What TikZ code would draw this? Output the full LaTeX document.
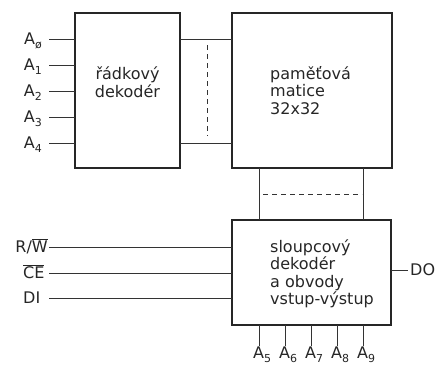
\documentclass[tikz,border=0pt]{standalone}
\usepackage{fontspec}
\setmainfont{DejaVu Sans}
\newcommand\subsc[1]{\raisebox{-3.5pt}{\fontsize{11}{11}\selectfont #1}}
\newcommand\ovl[1]{$\overline{\mbox{#1}}$}
\begin{document}
\begin{tikzpicture}[x=1pt,y=-1pt,
  font=\fontsize{16}{17.5}\selectfont,
  box/.style={draw=black!85, line width=1.3pt, inner sep=0pt, outer sep=0pt},
  wire/.style={draw=black!80, line width=0.8pt},
  dwire/.style={wire, dash pattern=on 5pt off 4pt},
  lab/.style={inner sep=0pt, text=black!85},
  txt/.style={inner sep=0pt, align=left, text=black!85}]
\useasboundingbox (0,0) rectangle (441,365);

% blocks
\node[box, minimum width=105pt, minimum height=155pt] (row) at (127.5,90.5) {};
\node[box, minimum width=160pt, minimum height=155pt] (mat) at (312,90.5) {};
\node[box, minimum width=159pt, minimum height=105pt] (col) at (311.5,272.5) {};

% texts
\node[txt, align=center] (rowtxt) at (127.5,82) {řádkový\\dekodér};
\node[txt, anchor=north west] (mattxt) at (270,66) {paměťová\\matice\\32x32};
\node[txt, anchor=north west] (coltxt) at (270,239) {sloupcový\\dekodér\\a obvody\\vstup-výstup};

% row address inputs
\foreach \n/\y/\s in {0/39/ø,1/65/1,2/91/2,3/117/3,4/143/4}{
  \coordinate (in\n) at (49,\y);
  \node[lab, anchor=base east] (lin\n) at (42,\y+5.5) {A\subsc{\s}};
  \draw[wire] (in\n) -- (row.west |- in\n);
}

% row decoder to matrix
\draw[wire] (row.east |- in0) -- (mat.west |- in0);
\draw[wire] (row.east |- in4) -- (mat.west |- in4);
\coordinate (dv1) at (207,45);
\coordinate (dv2) at (207,136);
\draw[dwire] (dv1) -- (dv2);

% control inputs
\coordinate (rw) at (49,247);
\coordinate (ce) at (49,273);
\coordinate (di) at (49,298);
\node[lab, anchor=base east] (lrw) at (48,247+5.5) {R/\ovl{W}};
\node[lab, anchor=base west] (lce) at (23,273+5.5) {\ovl{CE}};
\node[lab, anchor=base west] (ldi) at (23,298+5.5) {DI};
\draw[wire] (rw) -- (col.west |- rw);
\draw[wire] (ce) -- (col.west |- ce);
\draw[wire] (di) -- (col.west |- di);

% output
\coordinate (do) at (408,270);
\draw[wire] (col.east |- do) -- (do);
\node[lab, anchor=base west] (ldo) at (410,270+5.5) {DO};

% column address pins
\foreach \n/\x in {5/259,6/285,7/311,8/337,9/363}{
  \coordinate (p\n) at (\x,346);
  \draw[wire] (col.south -| p\n) -- (p\n);
  \node[lab, anchor=base west] (lp\n) at (\x-6,358.5) {A\subsc{\n}};
}

% matrix to column decoder
\draw[wire] (mat.south -| p5) -- (col.north -| p5);
\draw[wire] (mat.south -| p9) -- (col.north -| p9);
\coordinate (dh1) at (263,194);
\coordinate (dh2) at (362,194);
\draw[dwire] (dh1) -- (dh2);
\end{tikzpicture}
\end{document}
